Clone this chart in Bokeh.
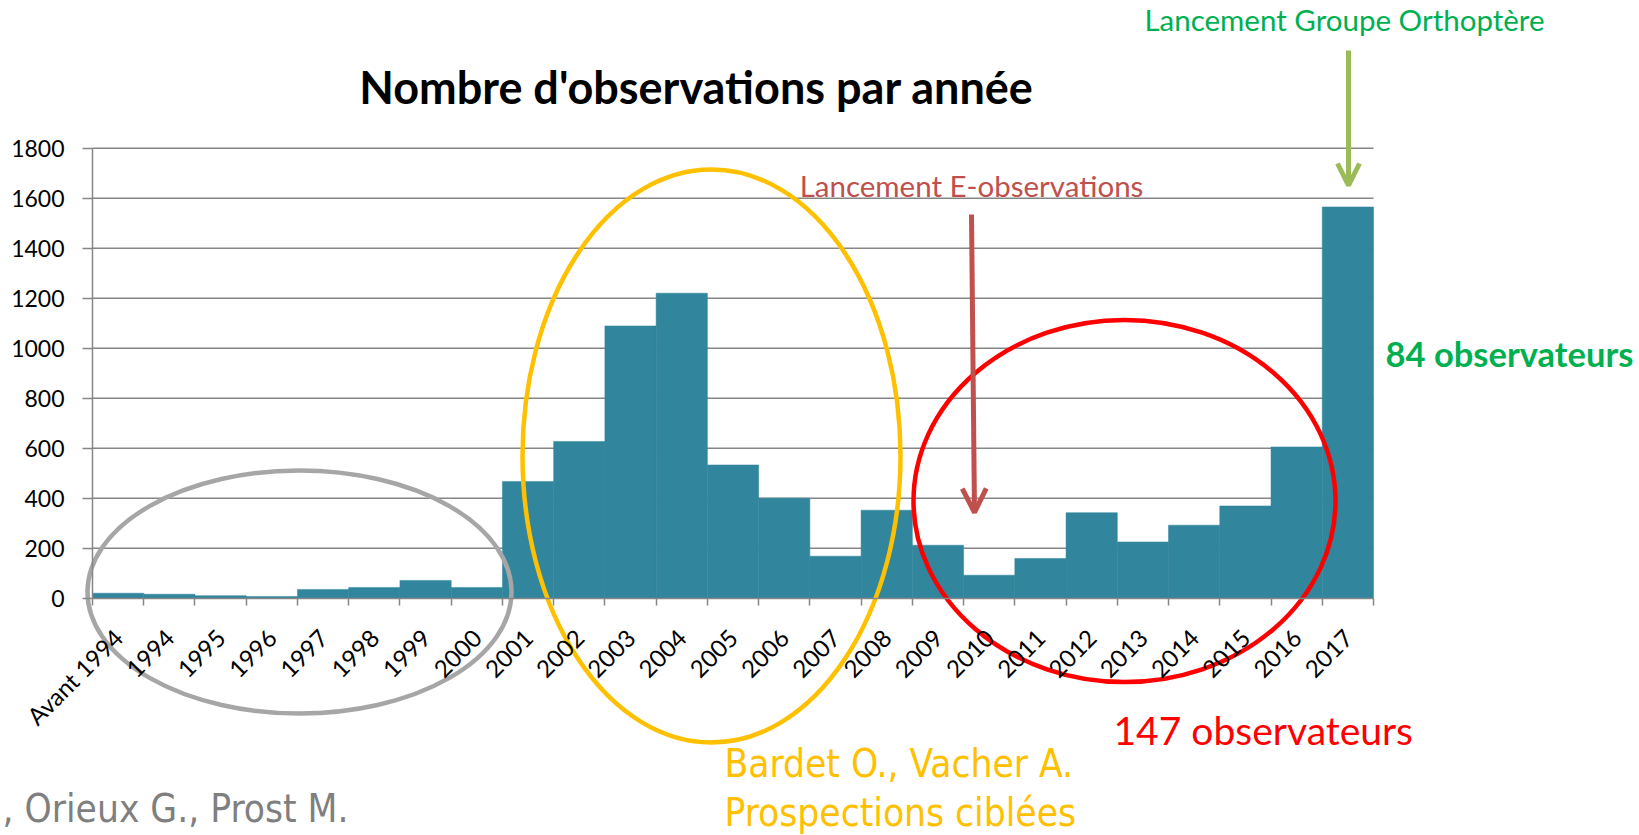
from math import pi
from bokeh.plotting import figure
from bokeh.models import (Range1d, LinearAxis, FixedTicker, Label, Arrow, OpenHead)
from bokeh.embed import file_html
from bokeh.resources import INLINE

# ---------------- data ----------------
categories = ["Avant 1994", "1994", "1995", "1996", "1997", "1998", "1999", "2000",
              "2001", "2002", "2003", "2004", "2005", "2006", "2007", "2008", "2009",
              "2010", "2011", "2012", "2013", "2014", "2015", "2016", "2017"]
observations = [20, 16, 10, 7, 35, 43, 71, 43,
                467, 627, 1089, 1220, 533, 400, 168, 352, 212,
                92, 159, 342, 225, 292, 369, 605, 1565]
y_ticks = [0, 200, 400, 600, 800, 1000, 1200, 1400, 1600, 1800]

title_text = "Nombre d'observations par année"
note_eobs = "Lancement E-observations"
note_groupe = "Lancement Groupe Orthoptère"
note_84 = "84 observateurs"
note_147 = "147 observateurs"
note_bardet = ["Bardet O., Vacher A.", "Prospections ciblées"]
note_orieux = ", Orieux G., Prost M."

# ---------------- layout (page pixels) ----------------
W, H = 1639, 835
N = len(categories)
YMAX = y_ticks[-1]
AX_LEFT, AX_RIGHT = 92.0, 1373.0      # chart area left / right
AX_BOTTOM, AX_TOP = 597.7, 147.7      # value 0 / value YMAX
PX_PER_CAT = (AX_RIGHT - AX_LEFT) / N
PX_PER_UNIT = (AX_BOTTOM - AX_TOP) / YMAX

def px2x(px):
    return (px - AX_LEFT) / PX_PER_CAT

def py2y(py):
    return (AX_BOTTOM - py) / PX_PER_UNIT

FONT = "Lato"
NARROW = "Liberation Sans Narrow, DejaVu Sans Condensed, sans-serif"
AX = "#868686"
BAR = "#31859C"

# category slots on a linear scale: slot i spans [i, i+1]
centers = [i + 0.5 for i in range(N)]
bounds_ticks = list(range(N + 1))

p = figure(width=W, height=H, x_range=Range1d(px2x(0), px2x(W)),
           y_range=Range1d(py2y(H), py2y(0)), output_backend="svg",
           toolbar_location=None, x_axis_location=None, y_axis_location=None,
           min_border=0, min_border_left=0, min_border_right=0,
           min_border_top=0, min_border_bottom=0)
p.title.visible = False
p.outline_line_color = None
p.background_fill_color = "white"
p.border_fill_color = "white"
p.grid.visible = False

# horizontal gridlines behind the bars
p.segment(x0=0, x1=N, y0=y_ticks, y1=y_ticks, line_color=AX, line_width=1.5)

p.vbar(x=centers, top=observations, width=1.0, fill_color=BAR,
       line_color=BAR, line_width=0.5)

# y axis
yax = LinearAxis(fixed_location=0, bounds=(0, YMAX), ticker=FixedTicker(ticks=y_ticks),
                 axis_line_color=AX, axis_line_width=1.5,
                 major_tick_line_color=AX, major_tick_line_width=1.5,
                 major_tick_in=0, major_tick_out=10, minor_tick_line_color=None,
                 major_label_standoff=18, major_label_text_font=FONT,
                 major_label_text_font_size="23px", major_label_text_color="black")
p.add_layout(yax, "left")

# x axis line with ticks between categories
tick_axis = LinearAxis(fixed_location=0, bounds=(0, N),
                       ticker=FixedTicker(ticks=bounds_ticks),
                       axis_line_color=AX, axis_line_width=1.5,
                       major_tick_line_color=AX, major_tick_line_width=1.5,
                       major_tick_in=0, major_tick_out=7, minor_tick_line_color=None,
                       major_label_text_font_size="1px", major_label_text_alpha=0,
                       major_label_standoff=0)
p.add_layout(tick_axis, "below")

# category labels
cat_axis = LinearAxis(fixed_location=0, bounds=(0, N), ticker=FixedTicker(ticks=centers),
                      major_label_overrides={c: name for c, name in zip(centers, categories)},
                      axis_line_color=None, major_tick_line_color=None,
                      major_tick_in=0, major_tick_out=0, minor_tick_line_color=None,
                      major_label_orientation=pi / 4, major_label_standoff=35,
                      major_label_text_font=FONT, major_label_text_font_size="24px",
                      major_label_text_color="black")
p.add_layout(cat_axis, "below")

# ---------------- ellipses (drawn in pixel geometry) ----------------
def ellipse(cx, cy, rx, ry, color):
    p.ellipse(x=[px2x(cx)], y=[py2y(cy)], width=[2 * rx / PX_PER_CAT],
              height=[2 * ry / PX_PER_UNIT], fill_color=None, line_color=color,
              line_width=4.5)

ellipse(299, 591.5, 212, 121.5, "#A6A6A6")
ellipse(711, 455.5, 189, 286.5, "#FFC000")
ellipse(1124, 500.5, 211, 181, "#FF0000")

# ---------------- arrows ----------------
p.add_layout(Arrow(end=OpenHead(line_color="#C0504D", line_width=5, size=24),
                   x_start=px2x(971), y_start=py2y(214), x_end=px2x(974), y_end=py2y(512),
                   line_color="#C0504D", line_width=5))
p.add_layout(Arrow(end=OpenHead(line_color="#9BBB59", line_width=5, size=22),
                   x_start=px2x(1348), y_start=py2y(50), x_end=px2x(1348), y_end=py2y(185),
                   line_color="#9BBB59", line_width=5))

# ---------------- texts ----------------
def label(px, py, text, color, size, align="left", font=FONT, style="normal"):
    p.add_layout(Label(x=px2x(px), y=py2y(py), text=text, text_color=color,
                       text_font=font, text_font_size=size, text_font_style=style,
                       text_align=align, text_baseline="middle"))

label(696, 86, title_text, "black", "45px", align="center", style="bold")
label(1344, 19, note_groupe, "#00B050", "29.5px", align="center")
label(971, 185, note_eobs, "#C0504D", "29.5px", align="center")
label(1385, 353, note_84, "#00B050", "34.5px", style="bold")
label(1113, 729, note_147, "#FF0000", "39px")
label(724, 763, note_bardet[0], "#FFC000", "38.5px", font=NARROW)
label(724, 812, note_bardet[1], "#FFC000", "38.5px", font=NARROW)
label(2, 808, note_orieux, "#7F7F7F", "38.5px", font=NARROW)

open("out.html", "w").write(file_html(p, INLINE))
